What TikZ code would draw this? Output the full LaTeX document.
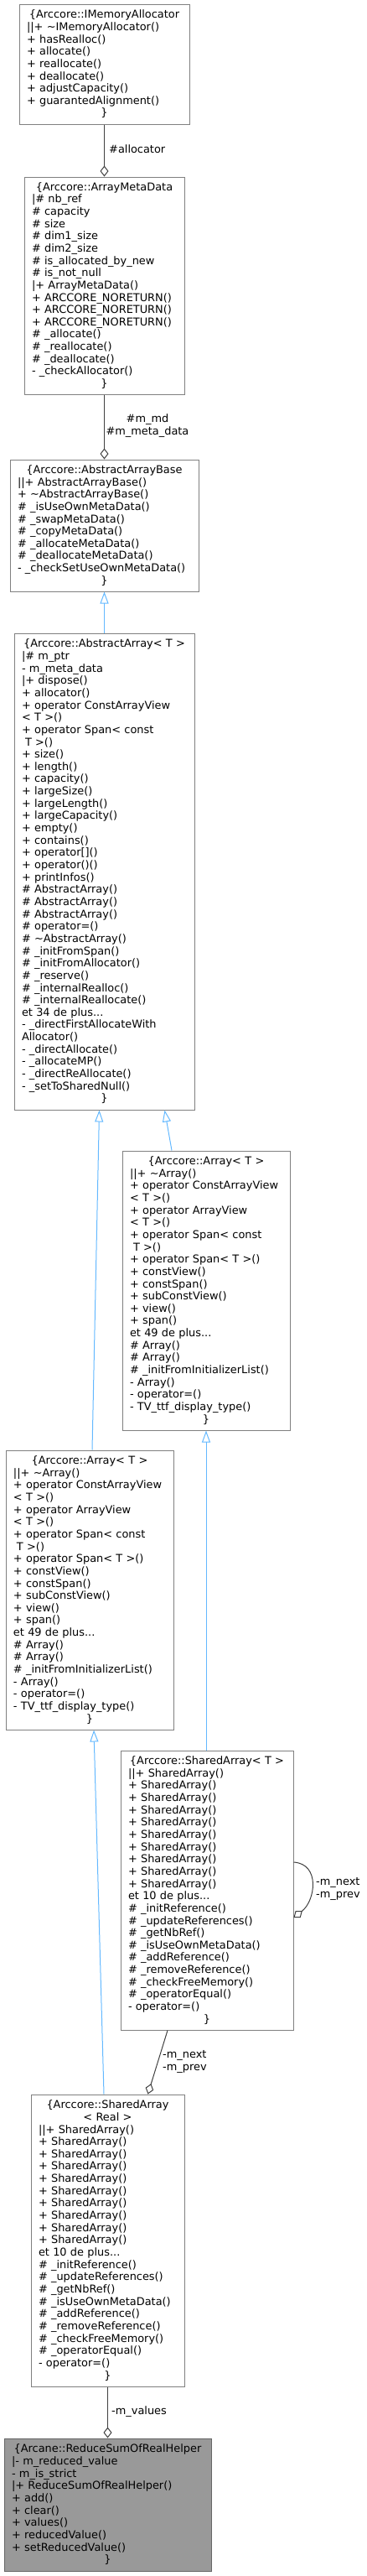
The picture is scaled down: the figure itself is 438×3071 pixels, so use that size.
\documentclass[tikz,border=0pt]{standalone}
\usepackage{fontspec}
\setmainfont{DejaVu Sans}
\usetikzlibrary{arrows.meta}
\definecolor{boxline}{HTML}{808080}
\definecolor{helperfill}{HTML}{999999}
\definecolor{helperline}{HTML}{666666}
\definecolor{linkgray}{HTML}{404040}
\definecolor{inhblue}{HTML}{63B8FF}
\newcommand{\ctr}[1]{\hspace*{\fill}#1\hfill\null}

\begin{document}
\begin{tikzpicture}[x=1pt,y=-1pt,
  font=\fontsize{12.9}{14.65}\selectfont,
  cls/.style={draw=boxline,line width=1pt,fill=white,inner xsep=9pt,inner ysep=0pt,align=left},
  lbl/.style={inner sep=0pt,align=left},
  assoc/.style={draw=linkgray,line width=1pt,-{Diamond[open,length=13pt,width=10pt]}},
  inherit/.style={draw=inhblue,line width=1pt,-{Triangle[open,length=14pt,width=10pt]}}]
  \useasboundingbox (0,0) rectangle (438,3071);

  % classes
  \node[cls,text width=185pt,minimum height=143pt] (alloc) at (124.5,76.5) {\ctr{\{Arccore::IMemoryAllocator}\\
||+ \textasciitilde IMemoryAllocator()\\
+ hasRealloc()\\
+ allocate()\\
+ reallocate()\\
+ deallocate()\\
+ adjustCapacity()\\
+ guarantedAlignment()\\
\ctr{\}}};

  \node[cls,text width=173pt,minimum height=259pt] (meta) at (124.5,340.5) {\ctr{\{Arccore::ArrayMetaData}\\
|\# nb\_ref\\
\# capacity\\
\# size\\
\# dim1\_size\\
\# dim2\_size\\
\# is\_allocated\_by\_new\\
\# is\_not\_null\\
|+ ArrayMetaData()\\
+ ARCCORE\_NORETURN()\\
+ ARCCORE\_NORETURN()\\
+ ARCCORE\_NORETURN()\\
\# \_allocate()\\
\# \_reallocate()\\
\# \_deallocate()\\
- \_checkAllocator()\\
\ctr{\}}};

  \node[cls,text width=207pt,minimum height=157pt] (abase) at (124.5,626.5) {\ctr{\{Arccore::AbstractArrayBase}\\
||+ AbstractArrayBase()\\
+ \textasciitilde AbstractArrayBase()\\
\# \_isUseOwnMetaData()\\
\# \_swapMetaData()\\
\# \_copyMetaData()\\
\# \_allocateMetaData()\\
\# \_deallocateMetaData()\\
- \_checkSetUseOwnMetaData()\\
\ctr{\}}};

  \node[cls,text width=197pt,minimum height=568pt] (aarray) at (124.5,1039) {\ctr{\{Arccore::AbstractArray< T >}\\
|\# m\_ptr\\
- m\_meta\_data\\
|+ dispose()\\
+ allocator()\\
+ operator ConstArrayView\\
< T >()\\
+ operator Span< const\\
\hspace*{4pt}T >()\\
+ size()\\
+ length()\\
+ capacity()\\
+ largeSize()\\
+ largeLength()\\
+ largeCapacity()\\
+ empty()\\
+ contains()\\
+ operator[]()\\
+ operator()()\\
+ printInfos()\\
\# AbstractArray()\\
\# AbstractArray()\\
\# AbstractArray()\\
\# operator=()\\
\# \textasciitilde AbstractArray()\\
\# \_initFromSpan()\\
\# \_initFromAllocator()\\
\# \_reserve()\\
\# \_internalRealloc()\\
\# \_internalReallocate()\\
et 34 de plus...\\
- \_directFirstAllocateWith\\
Allocator()\\
- \_directAllocate()\\
- \_allocateMP()\\
- \_directReAllocate()\\
- \_setToSharedNull()\\
\ctr{\}}};

  \node[cls,text width=182pt,minimum height=333pt] (arrayR) at (246,1538.5) {\ctr{\{Arccore::Array< T >}\\
||+ \textasciitilde Array()\\
+ operator ConstArrayView\\
< T >()\\
+ operator ArrayView\\
< T >()\\
+ operator Span< const\\
\hspace*{4pt}T >()\\
+ operator Span< T >()\\
+ constView()\\
+ constSpan()\\
+ subConstView()\\
+ view()\\
+ span()\\
et 49 de plus...\\
\# Array()\\
\# Array()\\
\# \_initFromInitializerList()\\
- Array()\\
- operator=()\\
- TV\_ttf\_display\_type()\\
\ctr{\}}};

  \node[cls,text width=182pt,minimum height=333pt] (arrayL) at (107,1895.5) {\ctr{\{Arccore::Array< T >}\\
||+ \textasciitilde Array()\\
+ operator ConstArrayView\\
< T >()\\
+ operator ArrayView\\
< T >()\\
+ operator Span< const\\
\hspace*{4pt}T >()\\
+ operator Span< T >()\\
+ constView()\\
+ constSpan()\\
+ subConstView()\\
+ view()\\
+ span()\\
et 49 de plus...\\
\# Array()\\
\# Array()\\
\# \_initFromInitializerList()\\
- Array()\\
- operator=()\\
- TV\_ttf\_display\_type()\\
\ctr{\}}};

  \node[cls,text width=188pt,minimum height=333pt] (sharedT) at (247,2253.5) {\ctr{\{Arccore::SharedArray< T >}\\
||+ SharedArray()\\
+ SharedArray()\\
+ SharedArray()\\
+ SharedArray()\\
+ SharedArray()\\
+ SharedArray()\\
+ SharedArray()\\
+ SharedArray()\\
+ SharedArray()\\
+ SharedArray()\\
et 10 de plus...\\
\# \_initReference()\\
\# \_updateReferences()\\
\# \_getNbRef()\\
\# \_isUseOwnMetaData()\\
\# \_addReference()\\
\# \_removeReference()\\
\# \_checkFreeMemory()\\
\# \_operatorEqual()\\
- operator=()\\
\ctr{\}}};

  \node[cls,text width=165pt,minimum height=348pt] (sharedR) at (128.5,2671) {\ctr{\{Arccore::SharedArray}\\
\ctr{< Real >}\\
||+ SharedArray()\\
+ SharedArray()\\
+ SharedArray()\\
+ SharedArray()\\
+ SharedArray()\\
+ SharedArray()\\
+ SharedArray()\\
+ SharedArray()\\
+ SharedArray()\\
+ SharedArray()\\
et 10 de plus...\\
\# \_initReference()\\
\# \_updateReferences()\\
\# \_getNbRef()\\
\# \_isUseOwnMetaData()\\
\# \_addReference()\\
\# \_removeReference()\\
\# \_checkFreeMemory()\\
\# \_operatorEqual()\\
- operator=()\\
\ctr{\}}};

  \node[cls,fill=helperfill,draw=helperline,text width=229pt,minimum height=158pt] (helper) at (128.5,2986) {\ctr{\{Arcane::ReduceSumOfRealHelper}\\
|- m\_reduced\_value\\
- m\_is\_strict\\
|+ ReduceSumOfRealHelper()\\
+ add()\\
+ clear()\\
+ values()\\
+ reducedValue()\\
+ setReducedValue()\\
\ctr{\}}};

  % links
  \draw[assoc] (alloc) -- (meta);
  \draw[assoc] (meta) -- (abase);
  \draw[inherit] (aarray) -- (abase);
  \draw[inherit] ([xshift=3pt]arrayL.north) -- ([xshift=-6pt]aarray.south);
  \draw[inherit] ([xshift=-41pt]arrayR.north) -- ([xshift=72pt]aarray.south);
  \draw[inherit] ([xshift=-1pt]sharedT.north) -- (arrayR.south);
  \draw[inherit] ([xshift=-4.5pt]sharedR.north) -- ([xshift=5pt]arrayL.south);
  \draw[assoc] ([xshift=-47pt]sharedT.south) -- ([xshift=48pt]sharedR.north);
  \draw[assoc] ([yshift=33.5pt]sharedT.east) .. controls +(32,2) and +(26,-20) .. ([yshift=-32.5pt]sharedT.east);
  \draw[assoc] (sharedR) -- (helper);

  % labels
  \node[lbl,anchor=west] (lAlloc) at (130,178) {\#allocator};
  \node[lbl,align=center] (lMeta) at (176,507.5) {\#m\_md\\\#m\_meta\_data};
  \node[lbl,anchor=west] (lLoop) at (377,2252) {-m\_next\\-m\_prev};
  \node[lbl,anchor=west] (lShared) at (194,2458) {-m\_next\\-m\_prev};
  \node[lbl,anchor=west] (lValues) at (133,2875) {-m\_values};
\end{tikzpicture}
\end{document}
